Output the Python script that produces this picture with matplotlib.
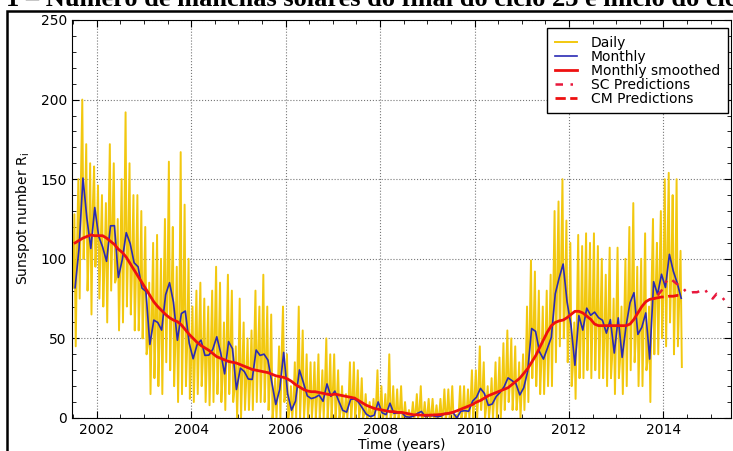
import numpy as np
import matplotlib
matplotlib.use('Agg')
import matplotlib.pyplot as plt
from matplotlib.patches import Rectangle
from matplotlib.ticker import MultipleLocator

# Monthly sunspot number, Jul 2001 .. May 2014
monthly = [81.8, 106.4, 150.7, 125.5, 106.5, 132.2,
           114.1, 107.4, 98.4, 120.7, 120.8, 88.3, 99.6, 116.4, 109.6, 97.5, 95.0, 81.6,
           79.5, 46.2, 61.5, 60.0, 55.2, 77.4, 85.0, 72.7, 48.8, 65.6, 67.2, 47.0,
           37.2, 46.0, 48.9, 39.3, 39.5, 43.2, 51.0, 40.9, 27.7, 48.0, 43.5, 17.9,
           31.3, 29.2, 24.5, 24.2, 42.7, 39.3, 40.1, 36.4, 22.1, 8.5, 18.0, 41.2,
           15.3, 4.9, 10.6, 30.2, 22.3, 13.9, 12.2, 12.9, 14.4, 10.5, 21.4, 13.6,
           16.9, 10.6, 4.8, 3.7, 11.7, 12.0, 10.0, 6.2, 2.4, 0.9, 1.7, 10.1,
           3.3, 2.1, 9.3, 2.9, 3.2, 3.4, 0.8, 0.5, 1.1, 2.9, 4.1, 0.8,
           1.5, 1.4, 0.7, 1.2, 2.9, 2.6, 3.5, 0.0, 4.2, 4.6, 4.2, 10.6,
           13.1, 18.6, 15.4, 7.9, 8.8, 13.5, 16.1, 19.6, 25.2, 23.5, 21.6, 14.5,
           19.0, 29.4, 56.2, 54.4, 41.6, 37.0, 43.8, 50.6, 78.0, 88.0, 96.7, 73.0,
           58.3, 33.1, 64.3, 55.2, 69.0, 64.5, 66.5, 63.0, 61.4, 53.3, 61.8, 40.8,
           62.9, 38.1, 57.9, 72.4, 78.7, 52.5, 57.0, 66.0, 37.0, 85.6, 77.6, 90.3,
           82.0, 102.8, 92.2, 84.7, 75.2]

# highest / lowest daily value seen in each month
daily_hi = [128, 150, 200, 172, 160, 158,
            146, 140, 135, 172, 160, 125, 150, 192, 160, 140, 140, 130,
            120, 85, 110, 115, 100, 125, 161, 120, 95, 167, 134, 100,
            70, 80, 85, 75, 70, 80, 95, 85, 60, 90, 80, 45,
            75, 60, 50, 55, 80, 70, 90, 70, 65, 25, 45, 70,
            40, 20, 35, 70, 55, 40, 35, 35, 40, 30, 50, 40,
            40, 30, 20, 15, 35, 35, 30, 25, 15, 10, 12, 30,
            20, 15, 40, 20, 18, 20, 10, 5, 10, 15, 20, 10,
            12, 12, 8, 12, 18, 18, 20, 2, 20, 20, 18, 30,
            30, 45, 35, 20, 25, 35, 38, 47, 55, 50, 45, 35,
            40, 70, 99, 92, 80, 70, 80, 90, 130, 136, 150, 124,
            110, 60, 115, 108, 116, 110, 116, 108, 100, 90, 107, 75,
            107, 70, 100, 120, 135, 95, 100, 116, 70, 125, 110, 130,
            150, 154, 140, 150, 105]
daily_lo = [45, 75, 100, 80, 65, 95,
            75, 70, 60, 80, 85, 55, 60, 70, 65, 55, 55, 50,
            40, 15, 25, 20, 15, 35, 30, 20, 10, 15, 20, 12,
            10, 15, 20, 10, 8, 10, 15, 10, 5, 15, 10, 0,
            0, 5, 5, 5, 10, 10, 10, 5, 0, 0, 0, 10,
            0, 0, 0, 0, 0, 0, 0, 0, 0, 0, 0, 0,
            0, 0, 0, 0, 0, 0, 0, 0, 0, 0, 0, 0,
            0, 0, 0, 0, 0, 0, 0, 0, 0, 0, 0, 0,
            0, 0, 0, 0, 0, 0, 0, 0, 0, 0, 0, 0,
            0, 5, 0, 0, 0, 0, 0, 5, 10, 5, 5, 0,
            5, 10, 25, 20, 15, 15, 20, 20, 35, 45, 50, 35,
            20, 12, 25, 25, 30, 25, 30, 25, 25, 20, 25, 15,
            25, 15, 20, 30, 35, 20, 20, 30, 10, 40, 40, 50,
            45, 60, 40, 45, 32]

# 13-month smoothed, Jul 2001 .. Oct 2013
smoothed = [110, 111.5, 113, 114, 115, 114.5,
            114.5, 114.5, 113, 111, 109, 106, 104, 101, 97, 93, 89, 85,
            81, 77, 73, 70, 67.5, 65, 63, 61.5, 60.5, 58.5, 55.5, 52.5,
            50, 47.5, 45.5, 44, 42.5, 40.5, 38.5, 37.5, 36.5, 35.5, 35, 34.5,
            33.5, 32.5, 31.5, 30.5, 30, 29.5, 29, 28.5, 27.5, 26.5, 26, 25.5,
            24.5, 23, 21, 19.5, 18, 17, 16.5, 16.5, 16, 15.5, 15, 14.5,
            15, 14.5, 14, 13.5, 13, 12.5, 11, 9.5, 8, 7, 6, 5.5,
            5, 4.5, 4, 4, 3.5, 3.5, 3, 2.5, 2, 2, 1.8, 1.7,
            1.8, 1.9, 2, 2.2, 2.6, 3, 3.6, 4.5, 5.5, 6.5, 7.5, 8.5,
            10, 11, 12.5, 14, 15, 16, 17, 18, 19, 21, 23, 25,
            28, 31, 35, 39, 44, 49, 54, 58, 60, 61, 61.5, 63,
            65, 67, 67, 66, 64, 62, 59, 58, 58, 58, 58, 58,
            58, 58, 58, 59, 62, 66, 70, 73, 74.5, 75]

# predictions: CM from Oct 2013, SC from Nov 2013
cm_pred = [75, 75.5, 76, 76, 76.5, 76.5, 77, 77]
sc_pred = [77, 80, 85, 88, 86, 84, 83, 80, 78, 79, 79, 80, 81, 77, 75, 78, 77, 74, 70]

start = 2001.5
t_mon = start + np.arange(len(monthly)) / 12. + 1 / 24.
t_smo = start + np.arange(len(smoothed)) / 12. + 1 / 24.
t_cm = t_smo[-1] + np.arange(len(cm_pred)) / 12.
t_sc = t_smo[-1] + 1 / 12. + np.arange(len(sc_pred)) / 12.

# daily band: monthly level, spike to the high, drop to the low
t_day = []
v_day = []
for i in range(len(monthly)):
    t0 = start + i / 12.
    t_day += [t0, t0 + 1 / 36., t0 + 2 / 36.]
    v_day += [monthly[i], daily_hi[i], daily_lo[i]]

fig = plt.figure(figsize=(7.33, 4.51), dpi=100)
ax = fig.add_axes([0.0978, 0.0732, 0.8995, 0.8825])

ax.plot(t_day, v_day, color='#f2c80f', lw=1.4, label='Daily')
ax.plot(t_mon, monthly, color='#2a2ab4', lw=1.2, label='Monthly')
ax.plot(t_smo, smoothed, color='#ee1010', lw=2, label='Monthly smoothed')
ax.plot(t_sc, sc_pred, color='#e8183c', lw=1.8, ls=(0, (3, 3, 1, 3)), label='SC Predictions')
ax.plot(t_cm, cm_pred, color='#ee1010', lw=2, ls='--', label='CM Predictions')

ax.set_xlim(2001.47, 2015.43)
ax.set_ylim(0, 250)
ax.xaxis.set_major_locator(MultipleLocator(2))
ax.xaxis.set_minor_locator(MultipleLocator(0.5))
ax.yaxis.set_major_locator(MultipleLocator(50))
ax.yaxis.set_minor_locator(MultipleLocator(10))
ax.tick_params(which='both', direction='in', top=True, right=True, labelsize=10)
ax.tick_params(which='major', length=5)
ax.tick_params(which='minor', length=3)
ax.grid(True, which='major', ls=':', color='#777777', lw=0.8)

ax.set_xlabel('Time (years)', fontsize=10, labelpad=1)
ax.set_ylabel('Sunspot number R$_{\\rm i}$', fontsize=10, labelpad=6)

leg = ax.legend(loc='upper right', bbox_to_anchor=(0.9954, 0.98), fontsize=10,
                fancybox=False, framealpha=1, handlelength=1.6, handletextpad=1.0,
                labelspacing=0.0, borderaxespad=0, borderpad=0.55)
leg.get_frame().set_edgecolor('black')

# page frame and cut caption around the figure
fig.patches.append(Rectangle((7 / 733., -0.1), 1.1, 1 - 11 / 451. + 0.1,
                             transform=fig.transFigure, fill=False,
                             edgecolor='black', lw=1.8))
fig.text(-77 / 733., 1 - 6 / 451., 'Figura 1 – Número de manchas solares do final do ciclo 23 e início do ciclo 24',
         family='Liberation Serif', weight='bold', fontsize=19, va='baseline')

fig.savefig('out.png', dpi=100)
